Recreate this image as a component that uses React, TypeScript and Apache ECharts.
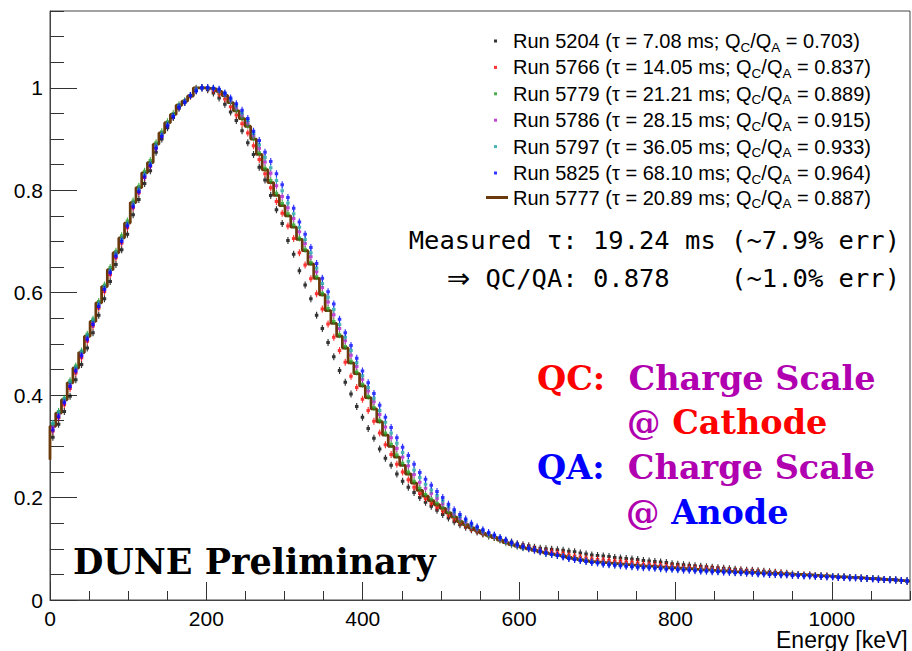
import React, { useEffect, useRef } from "react";
import * as echarts from "echarts";

// Histogram binning of the energy spectra (keV)
const E_MAX = 1100;
const BIN_COUNT = 150;
const BIN_WIDTH = E_MAX / BIN_COUNT;

// Normalised spectra, one value per bin
const run5204 = [
  0.318, 0.343, 0.368, 0.398, 0.430, 0.460, 0.492, 0.522, 0.556, 0.588,
  0.622, 0.655, 0.684, 0.714, 0.752, 0.782, 0.813, 0.838, 0.874, 0.900,
  0.922, 0.942, 0.960, 0.972, 0.984, 0.995, 1.000, 0.996, 0.990, 0.980,
  0.968, 0.953, 0.936, 0.916, 0.893, 0.870, 0.845, 0.820, 0.790, 0.762,
  0.735, 0.702, 0.675, 0.643, 0.615, 0.588, 0.556, 0.530, 0.503, 0.475,
  0.448, 0.425, 0.402, 0.378, 0.357, 0.335, 0.316, 0.295, 0.277, 0.263,
  0.246, 0.232, 0.220, 0.210, 0.200, 0.191, 0.183, 0.175, 0.167, 0.160,
  0.153, 0.147, 0.142, 0.137, 0.133, 0.129, 0.125, 0.122, 0.119, 0.116,
  0.113, 0.110, 0.108, 0.106, 0.103, 0.101, 0.100, 0.099, 0.098, 0.097,
  0.095, 0.094, 0.092, 0.090, 0.088, 0.087, 0.086, 0.085, 0.083, 0.082,
  0.081, 0.080, 0.079, 0.077, 0.076, 0.075, 0.074, 0.073, 0.071, 0.070,
  0.069, 0.068, 0.067, 0.066, 0.065, 0.064, 0.063, 0.062, 0.061, 0.060,
  0.059, 0.058, 0.058, 0.057, 0.056, 0.055, 0.054, 0.053, 0.052, 0.051,
  0.050, 0.049, 0.049, 0.048, 0.047, 0.047, 0.046, 0.045, 0.045, 0.044,
  0.044, 0.043, 0.042, 0.042, 0.041, 0.040, 0.040, 0.039, 0.038, 0.037,
];

const run5766 = [
  0.330, 0.356, 0.381, 0.413, 0.443, 0.473, 0.505, 0.535, 0.570, 0.602,
  0.635, 0.668, 0.697, 0.727, 0.766, 0.795, 0.825, 0.847, 0.883, 0.907,
  0.928, 0.945, 0.963, 0.973, 0.984, 0.998, 1.000, 0.998, 0.995, 0.988,
  0.978, 0.963, 0.947, 0.930, 0.912, 0.887, 0.860, 0.832, 0.805, 0.778,
  0.755, 0.730, 0.706, 0.678, 0.654, 0.627, 0.598, 0.568, 0.539, 0.513,
  0.487, 0.464, 0.437, 0.415, 0.392, 0.370, 0.349, 0.326, 0.303, 0.284,
  0.265, 0.250, 0.235, 0.220, 0.208, 0.198, 0.189, 0.181, 0.174, 0.166,
  0.158, 0.151, 0.145, 0.139, 0.135, 0.130, 0.126, 0.122, 0.118, 0.114,
  0.110, 0.107, 0.105, 0.103, 0.100, 0.097, 0.095, 0.094, 0.092, 0.091,
  0.088, 0.086, 0.084, 0.082, 0.080, 0.079, 0.078, 0.077, 0.076, 0.075,
  0.074, 0.073, 0.072, 0.070, 0.070, 0.069, 0.068, 0.067, 0.066, 0.065,
  0.064, 0.064, 0.063, 0.062, 0.062, 0.061, 0.060, 0.059, 0.058, 0.057,
  0.057, 0.056, 0.056, 0.055, 0.054, 0.053, 0.053, 0.052, 0.051, 0.050,
  0.050, 0.049, 0.049, 0.048, 0.047, 0.047, 0.046, 0.045, 0.045, 0.044,
  0.044, 0.043, 0.042, 0.042, 0.041, 0.040, 0.040, 0.039, 0.038, 0.037,
];

const run5779 = [
  0.343, 0.368, 0.394, 0.428, 0.457, 0.486, 0.519, 0.548, 0.583, 0.615,
  0.649, 0.681, 0.711, 0.740, 0.779, 0.808, 0.837, 0.858, 0.893, 0.914,
  0.934, 0.950, 0.967, 0.975, 0.985, 0.999, 1.000, 0.999, 0.998, 0.993,
  0.986, 0.972, 0.956, 0.942, 0.927, 0.902, 0.873, 0.843, 0.819, 0.794,
  0.774, 0.754, 0.732, 0.707, 0.685, 0.659, 0.631, 0.599, 0.569, 0.544,
  0.518, 0.495, 0.466, 0.445, 0.421, 0.398, 0.376, 0.351, 0.326, 0.304,
  0.283, 0.267, 0.250, 0.232, 0.218, 0.206, 0.197, 0.189, 0.181, 0.172,
  0.163, 0.154, 0.148, 0.142, 0.137, 0.131, 0.126, 0.122, 0.117, 0.112,
  0.108, 0.105, 0.102, 0.100, 0.097, 0.094, 0.091, 0.089, 0.087, 0.085,
  0.082, 0.080, 0.078, 0.076, 0.074, 0.073, 0.072, 0.071, 0.070, 0.069,
  0.068, 0.067, 0.066, 0.065, 0.065, 0.064, 0.063, 0.062, 0.062, 0.061,
  0.060, 0.060, 0.059, 0.058, 0.058, 0.057, 0.056, 0.056, 0.055, 0.054,
  0.054, 0.053, 0.053, 0.052, 0.052, 0.051, 0.051, 0.050, 0.050, 0.049,
  0.049, 0.048, 0.048, 0.047, 0.047, 0.046, 0.046, 0.045, 0.045, 0.044,
  0.044, 0.043, 0.042, 0.042, 0.041, 0.040, 0.040, 0.039, 0.038, 0.037,
];

const run5786 = [
  0.338, 0.362, 0.388, 0.420, 0.450, 0.480, 0.512, 0.541, 0.577, 0.609,
  0.642, 0.675, 0.704, 0.733, 0.772, 0.801, 0.830, 0.851, 0.886, 0.909,
  0.929, 0.946, 0.964, 0.973, 0.985, 0.997, 1.000, 1.000, 0.998, 0.995,
  0.987, 0.975, 0.961, 0.947, 0.932, 0.907, 0.882, 0.855, 0.833, 0.809,
  0.788, 0.766, 0.745, 0.719, 0.696, 0.670, 0.641, 0.610, 0.582, 0.557,
  0.530, 0.506, 0.478, 0.456, 0.431, 0.408, 0.387, 0.362, 0.338, 0.317,
  0.296, 0.279, 0.262, 0.245, 0.230, 0.218, 0.208, 0.198, 0.188, 0.178,
  0.168, 0.159, 0.152, 0.145, 0.139, 0.133, 0.129, 0.124, 0.119, 0.114,
  0.110, 0.106, 0.103, 0.100, 0.097, 0.094, 0.092, 0.090, 0.088, 0.085,
  0.082, 0.080, 0.078, 0.076, 0.074, 0.073, 0.072, 0.071, 0.070, 0.069,
  0.068, 0.067, 0.066, 0.065, 0.065, 0.064, 0.063, 0.062, 0.062, 0.061,
  0.060, 0.060, 0.059, 0.058, 0.058, 0.057, 0.056, 0.056, 0.055, 0.054,
  0.054, 0.053, 0.053, 0.052, 0.052, 0.051, 0.051, 0.050, 0.050, 0.049,
  0.049, 0.048, 0.048, 0.047, 0.047, 0.046, 0.046, 0.045, 0.045, 0.044,
  0.044, 0.043, 0.042, 0.042, 0.041, 0.040, 0.040, 0.039, 0.038, 0.037,
];

const run5797 = [
  0.345, 0.366, 0.392, 0.425, 0.454, 0.484, 0.516, 0.545, 0.578, 0.611,
  0.644, 0.676, 0.705, 0.734, 0.773, 0.802, 0.831, 0.852, 0.887, 0.909,
  0.929, 0.946, 0.964, 0.973, 0.985, 0.996, 1.000, 1.000, 0.999, 0.996,
  0.989, 0.977, 0.965, 0.951, 0.936, 0.911, 0.889, 0.864, 0.844, 0.819,
  0.799, 0.775, 0.754, 0.728, 0.704, 0.678, 0.648, 0.618, 0.591, 0.567,
  0.538, 0.513, 0.487, 0.463, 0.438, 0.415, 0.394, 0.370, 0.347, 0.326,
  0.306, 0.288, 0.271, 0.254, 0.239, 0.226, 0.215, 0.204, 0.194, 0.182,
  0.172, 0.163, 0.155, 0.147, 0.141, 0.135, 0.130, 0.126, 0.121, 0.116,
  0.111, 0.107, 0.103, 0.101, 0.098, 0.095, 0.092, 0.089, 0.087, 0.085,
  0.082, 0.080, 0.078, 0.076, 0.074, 0.073, 0.071, 0.070, 0.069, 0.068,
  0.067, 0.066, 0.065, 0.064, 0.064, 0.063, 0.062, 0.061, 0.061, 0.060,
  0.060, 0.059, 0.059, 0.058, 0.057, 0.057, 0.056, 0.056, 0.055, 0.054,
  0.054, 0.053, 0.053, 0.052, 0.052, 0.051, 0.051, 0.050, 0.050, 0.049,
  0.049, 0.048, 0.048, 0.047, 0.047, 0.046, 0.046, 0.045, 0.045, 0.044,
  0.044, 0.043, 0.042, 0.042, 0.041, 0.040, 0.040, 0.039, 0.038, 0.037,
];

const run5825 = [
  0.332, 0.358, 0.385, 0.417, 0.447, 0.477, 0.509, 0.538, 0.573, 0.606,
  0.639, 0.671, 0.700, 0.730, 0.768, 0.797, 0.826, 0.848, 0.882, 0.905,
  0.926, 0.944, 0.962, 0.972, 0.985, 0.994, 1.000, 1.000, 0.999, 0.997,
  0.990, 0.980, 0.969, 0.956, 0.940, 0.915, 0.897, 0.874, 0.856, 0.832,
  0.811, 0.786, 0.765, 0.738, 0.714, 0.688, 0.657, 0.628, 0.602, 0.578,
  0.548, 0.522, 0.497, 0.472, 0.447, 0.424, 0.403, 0.380, 0.357, 0.337,
  0.317, 0.298, 0.282, 0.265, 0.249, 0.236, 0.224, 0.212, 0.200, 0.187,
  0.176, 0.167, 0.158, 0.150, 0.143, 0.137, 0.132, 0.127, 0.122, 0.117,
  0.112, 0.108, 0.104, 0.101, 0.098, 0.095, 0.092, 0.089, 0.087, 0.084,
  0.081, 0.079, 0.077, 0.075, 0.073, 0.072, 0.070, 0.069, 0.068, 0.067,
  0.066, 0.065, 0.064, 0.063, 0.063, 0.062, 0.061, 0.060, 0.060, 0.059,
  0.058, 0.058, 0.057, 0.056, 0.056, 0.055, 0.055, 0.054, 0.054, 0.053,
  0.053, 0.052, 0.052, 0.051, 0.051, 0.050, 0.050, 0.049, 0.049, 0.048,
  0.048, 0.047, 0.047, 0.046, 0.046, 0.045, 0.045, 0.044, 0.044, 0.043,
  0.043, 0.042, 0.042, 0.041, 0.040, 0.040, 0.039, 0.039, 0.038, 0.037,
];

// Reference run, drawn as a histogram outline
const run5777Edge = 0.274;
const run5777 = [
  0.339, 0.365, 0.391, 0.424, 0.453, 0.483, 0.515, 0.544, 0.580, 0.612,
  0.645, 0.678, 0.707, 0.736, 0.776, 0.805, 0.834, 0.854, 0.890, 0.912,
  0.932, 0.948, 0.966, 0.974, 0.984, 1.000, 1.000, 0.999, 0.998, 0.993,
  0.985, 0.971, 0.955, 0.940, 0.925, 0.900, 0.870, 0.840, 0.815, 0.790,
  0.770, 0.750, 0.728, 0.704, 0.682, 0.656, 0.628, 0.596, 0.565, 0.540,
  0.515, 0.492, 0.463, 0.442, 0.418, 0.395, 0.373, 0.348, 0.322, 0.300,
  0.279, 0.263, 0.246, 0.228, 0.214, 0.203, 0.194, 0.186, 0.179, 0.170,
  0.162, 0.153, 0.147, 0.141, 0.136, 0.130, 0.126, 0.122, 0.117, 0.112,
  0.108, 0.105, 0.102, 0.100, 0.097, 0.094, 0.092, 0.090, 0.088, 0.086,
  0.083, 0.081, 0.079, 0.077, 0.075, 0.074, 0.073, 0.072, 0.071, 0.070,
  0.069, 0.068, 0.067, 0.066, 0.066, 0.065, 0.064, 0.063, 0.063, 0.062,
  0.061, 0.061, 0.060, 0.059, 0.059, 0.058, 0.057, 0.057, 0.056, 0.055,
  0.055, 0.054, 0.054, 0.053, 0.053, 0.052, 0.052, 0.051, 0.051, 0.050,
  0.050, 0.049, 0.049, 0.048, 0.047, 0.047, 0.046, 0.045, 0.045, 0.044,
  0.044, 0.043, 0.042, 0.042, 0.041, 0.040, 0.040, 0.039, 0.038, 0.037,
];

// Run labels: run number, electron lifetime (ms), charge ratio QC/QA
const runIds = ["5204", "5766", "5779", "5786", "5797", "5825", "5777"];
const runTaus = ["7.08", "14.05", "21.21", "28.15", "36.05", "68.10", "20.89"];
const runRatios = ["0.703", "0.837", "0.889", "0.915", "0.933", "0.964", "0.887"];
const runColors = ["#000000", "#ff0000", "#1f9a1f", "#b118c8", "#1aa3a3", "#0000ff", "#6a3a0c"];
const pointRuns = [run5204, run5766, run5779, run5786, run5797, run5825];

const binCenters = run5777.map((_, i) => (i + 0.5) * BIN_WIDTH);

// Small dot with a short vertical error bar
const MARKER = "path://M1,0H2V2H3V5H2V7H1V5H0V2H1Z";

const FONT_SANS = "Liberation Sans";
const FONT_MONO = '25.5px "DejaVu Sans Mono"';

function legendLabel(name: string, lead: string): string {
  const idx = runIds.indexOf(name.replace("Run ", ""));
  return `{${lead}|${name} (τ = ${runTaus[idx]} ms; Q}{s|C}{t|/Q}{s|A}{t| = ${runRatios[idx]})}`;
}

const legendRich = {
  p: { fontSize: 20, fontFamily: FONT_SANS, color: "#000", lineHeight: 26, padding: [0, 0, 0, 11] },
  q: { fontSize: 20, fontFamily: FONT_SANS, color: "#000", lineHeight: 26 },
  t: { fontSize: 20, fontFamily: FONT_SANS, color: "#000", lineHeight: 26 },
  s: { fontSize: 13.5, fontFamily: FONT_SANS, color: "#000", lineHeight: 12, verticalAlign: "bottom" },
};

const plainNumber = (v: number) => String(v);

export default function App() {
  const ref = useRef<HTMLDivElement | null>(null);

  useEffect(() => {
    if (!ref.current) return;
    const chart = echarts.init(ref.current, undefined, { renderer: "svg" });

    const lastIdx = run5777.length - 1;
    const stepData: number[][] = [[0, run5777Edge]];
    run5777.forEach((v, i) => stepData.push([i * BIN_WIDTH, v]));
    stepData.push([E_MAX, run5777[lastIdx]]);

    const pointSeries = pointRuns.map((vals, k) => ({
      name: `Run ${runIds[k]}`,
      type: "scatter",
      symbol: MARKER,
      symbolSize: [3.5, 7],
      itemStyle: { color: runColors[k] },
      data: vals.map((v, i) => [binCenters[i], v]),
      z: 3 + k,
    }));

    const axisTickColor = "#333";
    const serifBold = (size: number) => `bold ${size}px "DejaVu Serif"`;

    chart.setOption({
      animation: false,
      backgroundColor: "#ffffff",
      grid: {
        left: 50,
        right: 2,
        top: 11,
        bottom: 51,
        containLabel: false,
        outerBoundsMode: "none",
        show: true,
        borderColor: "#444",
        borderWidth: 1,
      },
      xAxis: [
        {
          type: "value",
          min: 0,
          max: E_MAX,
          interval: 200,
          position: "bottom",
          axisLine: { show: true, lineStyle: { color: "#444", width: 1 } },
          axisTick: { show: true, inside: true, length: 18, lineStyle: { color: axisTickColor } },
          axisLabel: {
            show: true,
            margin: 8,
            fontSize: 21,
            color: "#000",
            fontFamily: FONT_SANS,
            showMaxLabel: false,
            formatter: plainNumber,
          },
          splitLine: { show: false },
          name: "Energy [keV]",
          nameLocation: "end",
          nameGap: -134,
          nameMoveOverlap: false,
          nameTextStyle: {
            fontSize: 23,
            fontFamily: FONT_SANS,
            color: "#000",
            verticalAlign: "top",
            padding: [28, 0, 0, 0],
          },
        },
        {
          type: "value",
          min: 0,
          max: E_MAX,
          interval: 50,
          position: "bottom",
          axisLine: { show: false },
          axisTick: { show: true, inside: true, length: 9, lineStyle: { color: axisTickColor } },
          axisLabel: { show: false },
          splitLine: { show: false },
        },
      ],
      yAxis: [
        {
          type: "value",
          min: 0,
          max: 1.15,
          interval: 0.2,
          position: "left",
          axisLine: { show: true, lineStyle: { color: "#444", width: 1 } },
          axisTick: { show: true, inside: true, length: 27, lineStyle: { color: axisTickColor } },
          axisLabel: {
            show: true,
            margin: 7,
            fontSize: 21,
            color: "#000",
            fontFamily: FONT_SANS,
            showMaxLabel: false,
            formatter: plainNumber,
          },
          splitLine: { show: false },
        },
        {
          type: "value",
          min: 0,
          max: 1.15,
          interval: 0.05,
          position: "left",
          axisLine: { show: false },
          axisTick: { show: true, inside: true, length: 14, lineStyle: { color: axisTickColor } },
          axisLabel: { show: false },
          splitLine: { show: false },
        },
      ],
      legend: [
        {
          orient: "vertical",
          left: 494,
          top: 31,
          padding: 0,
          itemGap: 3.4,
          itemWidth: 3,
          itemHeight: 3,
          icon: "rect",
          selectedMode: false,
          data: pointRuns.map((_, k) => `Run ${runIds[k]}`),
          formatter: (name: string) => legendLabel(name, "p"),
          textStyle: { rich: legendRich },
        },
        {
          orient: "vertical",
          left: 486,
          top: 187.5,
          padding: 0,
          itemGap: 0,
          itemWidth: 22,
          itemHeight: 3,
          icon: "rect",
          selectedMode: false,
          data: [`Run ${runIds[6]}`],
          formatter: (name: string) => legendLabel(name, "q"),
          textStyle: { rich: legendRich },
        },
      ],
      graphic: [
        {
          type: "text",
          x: 900,
          y: 240,
          style: {
            text: "Measured τ: 19.24 ms (~7.9% err)",
            font: FONT_MONO,
            fill: "#000",
            align: "right",
            verticalAlign: "middle",
          },
        },
        {
          type: "text",
          x: 900,
          y: 278,
          style: {
            text: "{a|⇒} QC/QA: 0.878    (~1.0% err)",
            font: FONT_MONO,
            fill: "#000",
            align: "right",
            verticalAlign: "middle",
            rich: { a: { font: '28px "DejaVu Sans"' } },
          },
        },
        {
          type: "text",
          x: 537,
          y: 378,
          style: {
            text: "{r|QC:}  {m|Charge Scale}",
            font: serifBold(33.5),
            fill: "#b000b0",
            align: "left",
            verticalAlign: "middle",
            rich: { r: { fill: "#ff0000" }, m: { fill: "#b000b0" } },
          },
        },
        {
          type: "text",
          x: 627,
          y: 422,
          style: {
            text: "{m|@} {r|Cathode}",
            font: serifBold(33.5),
            fill: "#b000b0",
            align: "left",
            verticalAlign: "middle",
            rich: { r: { fill: "#ff0000" }, m: { fill: "#b000b0" } },
          },
        },
        {
          type: "text",
          x: 537,
          y: 467,
          style: {
            text: "{b|QA:}  {m|Charge Scale}",
            font: serifBold(33.5),
            fill: "#b000b0",
            align: "left",
            verticalAlign: "middle",
            rich: { b: { fill: "#0000ff" }, m: { fill: "#b000b0" } },
          },
        },
        {
          type: "text",
          x: 626,
          y: 512,
          style: {
            text: "{m|@} {b|Anode}",
            font: serifBold(33.5),
            fill: "#b000b0",
            align: "left",
            verticalAlign: "middle",
            rich: { b: { fill: "#0000ff" }, m: { fill: "#b000b0" } },
          },
        },
        {
          type: "text",
          x: 73,
          y: 561,
          style: {
            text: "DUNE Preliminary",
            font: serifBold(35),
            fill: "#000",
            align: "left",
            verticalAlign: "middle",
          },
        },
      ],
      series: [
        {
          name: `Run ${runIds[6]}`,
          type: "line",
          step: "end",
          symbol: "none",
          showSymbol: false,
          lineStyle: { color: runColors[6], width: 2.8 },
          itemStyle: { color: runColors[6] },
          data: stepData,
          z: 2,
        },
        ...pointSeries,
      ],
    });

    return () => chart.dispose();
  }, []);

  return (
    <div
      ref={ref}
      style={{ position: "absolute", left: 0, top: 0, width: 912, height: 651, background: "#fff" }}
    />
  );
}
